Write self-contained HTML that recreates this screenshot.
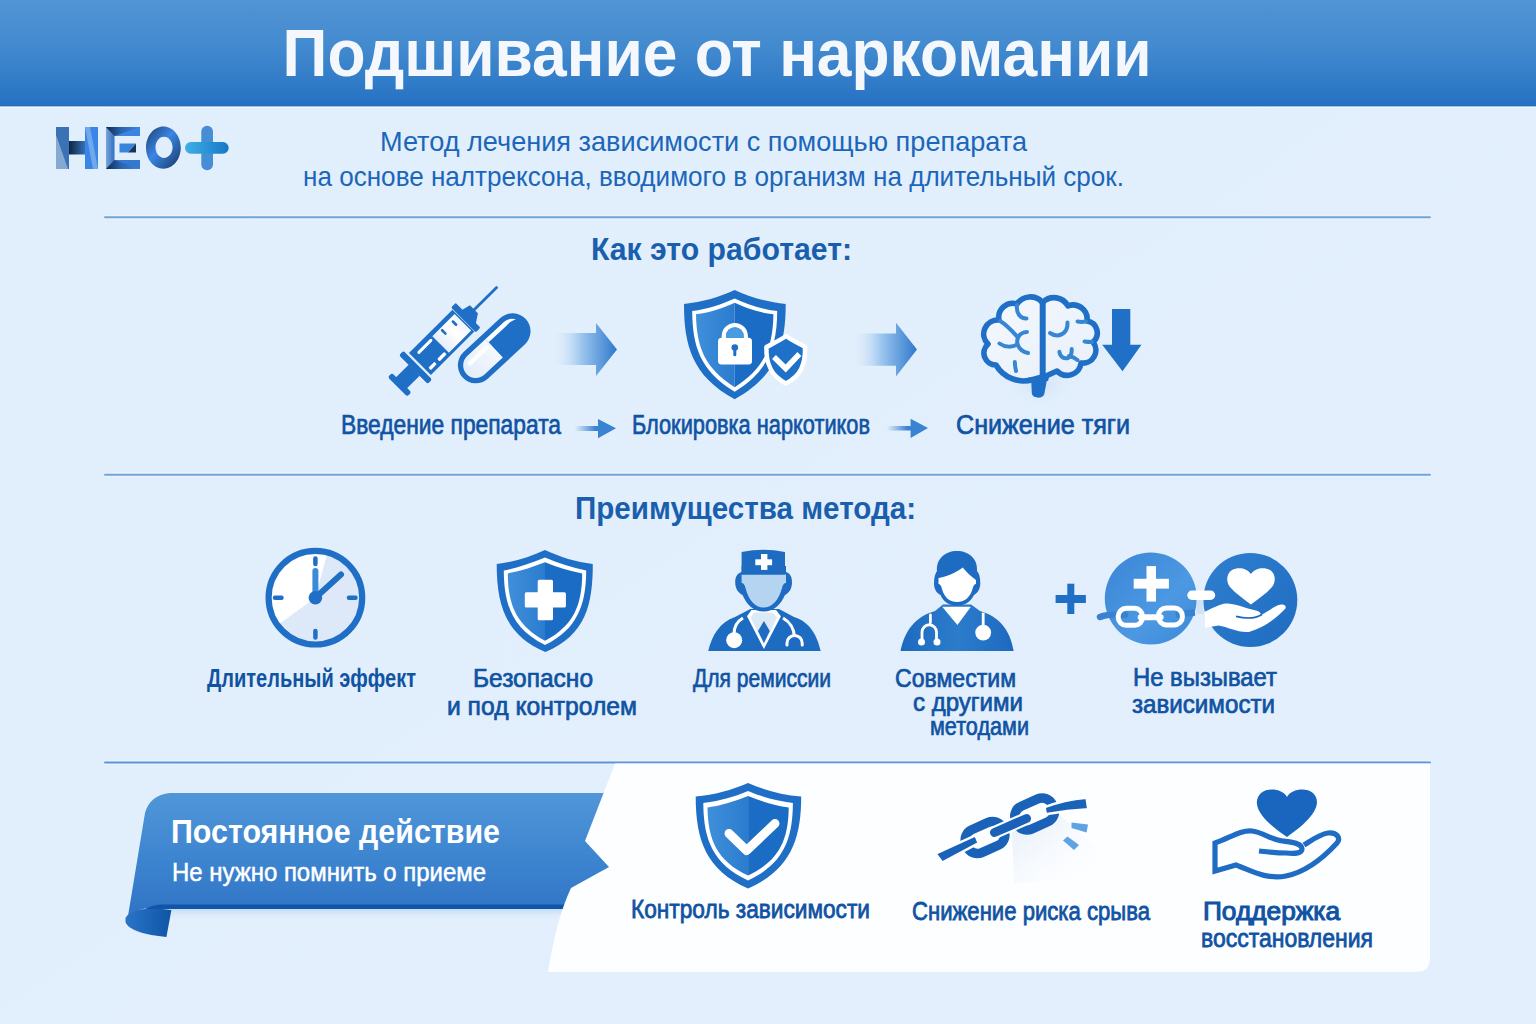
<!DOCTYPE html>
<html><head><meta charset="utf-8">
<style>
html,body{margin:0;padding:0;width:1536px;height:1024px;overflow:hidden;background:#e1eefb;}
svg{position:absolute;left:0;top:0;display:block}
text{font-family:"Liberation Sans",sans-serif;}
</style></head><body>
<svg width="1536" height="1024" viewBox="0 0 1536 1024">
<defs>
<linearGradient id="hdr" x1="0" y1="0" x2="0" y2="1">
<stop offset="0" stop-color="#5294d4"/><stop offset="0.45" stop-color="#428acf"/><stop offset="0.85" stop-color="#2d78c6"/><stop offset="1" stop-color="#2470c0"/>
</linearGradient>
<linearGradient id="bg" x1="0" y1="0" x2="1" y2="1">
<stop offset="0" stop-color="#e1eefb"/><stop offset="1" stop-color="#e3effc"/>
</linearGradient>
</defs>
<rect x="0" y="0" width="1536" height="1024" fill="url(#bg)"/>
<rect x="0" y="106" width="1536" height="2" fill="#f2f8fe" opacity="0.8"/>
<rect x="0" y="0" width="1536" height="106.4" fill="url(#hdr)"/>
<!-- title -->
<text id="t_title" x="282.6" y="76" font-size="67" font-weight="bold" fill="#f4f8fd" textLength="869" lengthAdjust="spacingAndGlyphs">Подшивание от наркомании</text>
<!-- subtitle -->
<text id="t_sub1" x="380" y="151" font-size="28.5" fill="#1b66ba" textLength="647" lengthAdjust="spacingAndGlyphs">Метод лечения зависимости с помощью препарата</text>
<text id="t_sub2" x="303" y="185.5" font-size="28.5" fill="#1b66ba" textLength="821" lengthAdjust="spacingAndGlyphs">на основе налтрексона, вводимого в организм на длительный срок.</text>

<!-- ===== LOGO ===== -->
<g id="logo">
<linearGradient id="lgH1" x1="0" y1="0" x2="1" y2="0"><stop offset="0" stop-color="#7fa8d6"/><stop offset="0.5" stop-color="#3f79bb"/><stop offset="1" stop-color="#2e6db5"/></linearGradient>
<linearGradient id="lgH2" x1="0" y1="0" x2="1" y2="0"><stop offset="0" stop-color="#2f75c8"/><stop offset="0.4" stop-color="#7aa9e6"/><stop offset="1" stop-color="#3a86e8"/></linearGradient>
<linearGradient id="lgHc" x1="0" y1="0" x2="1" y2="0"><stop offset="0" stop-color="#0e2440"/><stop offset="1" stop-color="#3470b8"/></linearGradient>
<linearGradient id="lgE" x1="0" y1="0" x2="1" y2="1"><stop offset="0" stop-color="#132d50"/><stop offset="0.5" stop-color="#2f6fc0"/><stop offset="1" stop-color="#3a80d8"/></linearGradient>
<linearGradient id="lgO" x1="0" y1="0" x2="1" y2="1"><stop offset="0" stop-color="#1c3e6a"/><stop offset="0.45" stop-color="#3b86e6"/><stop offset="1" stop-color="#17355e"/></linearGradient>
<linearGradient id="lgP" x1="0" y1="0" x2="1" y2="0"><stop offset="0" stop-color="#3fb0e6"/><stop offset="1" stop-color="#1677c6"/></linearGradient>
<linearGradient id="lgPv" x1="0" y1="0" x2="0" y2="1"><stop offset="0" stop-color="#3b7fd0"/><stop offset="0.5" stop-color="#2a8bd0"/><stop offset="1" stop-color="#3a7ed6"/></linearGradient>
<rect x="56" y="127" width="13" height="42" fill="#3b72b6"/>
<path d="M56,135 L68,169 L56,169 Z" fill="#86a9d2"/>
<rect x="85" y="127" width="13" height="42" fill="#3a86e6"/>
<path d="M85,127 L90,127 L98,169 L93,169 Z" fill="#7fb0ee" opacity="0.8"/>
<rect x="69" y="141" width="16" height="13.5" fill="url(#lgHc)"/>
<linearGradient id="lgEt" x1="0" y1="0" x2="1" y2="0"><stop offset="0" stop-color="#10284a"/><stop offset="0.45" stop-color="#2a64b0"/><stop offset="1" stop-color="#3a86e6"/></linearGradient>
<linearGradient id="lgEv" x1="0" y1="0" x2="1" y2="0"><stop offset="0" stop-color="#7aa4d8"/><stop offset="1" stop-color="#2f70c4"/></linearGradient>
<rect x="106" y="127" width="8.5" height="42" fill="url(#lgEv)"/>
<path d="M106,127 H140 V136 H114.5 Z" fill="url(#lgEt)"/>
<path d="M114.5,136 L140,127 V136 Z" fill="#3a84e2"/>
<path d="M106,169 H140 V160 H114.5 Z" fill="url(#lgEt)"/>
<path d="M114.5,160 L140,169 V160 Z" fill="#3578d0"/>
<path d="M119.5,143.5 H136 L128,152.5 H119.5 Z" fill="#3a84dc"/>
<path d="M128,152.5 L136,143.5 V152.5 Z" fill="#17345c"/>
<path fill-rule="evenodd" d="M163.4,126.4 C173,126.4 180.8,135.8 180.8,147.6 C180.8,159.4 173,168.8 163.4,168.8 C153.8,168.8 146,159.4 146,147.6 C146,135.8 153.8,126.4 163.4,126.4 Z M164,136.7 C159.3,136.7 155.5,141.5 155.5,147.3 C155.5,153.1 159.3,157.9 164,157.9 C168.7,157.9 172.6,153.1 172.6,147.3 C172.6,141.5 168.7,136.7 164,136.7 Z" fill="url(#lgO)"/>
<rect x="201.3" y="125.7" width="11.7" height="44.5" rx="5.8" fill="url(#lgPv)" opacity="0.9"/>
<rect x="185" y="142.1" width="43.7" height="11.7" rx="5.8" fill="url(#lgP)"/>
</g>

<!-- ===== HOW IT WORKS ICONS ===== -->
<linearGradient id="arrG" x1="0" y1="0" x2="1" y2="0"><stop offset="0" stop-color="#e2edf9" stop-opacity="0"/><stop offset="0.45" stop-color="#9cc6ef"/><stop offset="1" stop-color="#2f78cc"/></linearGradient>
<linearGradient id="arrS" x1="0" y1="0" x2="1" y2="0"><stop offset="0" stop-color="#3a83d2" stop-opacity="0"/><stop offset="0.5" stop-color="#3a83d2"/><stop offset="1" stop-color="#3a83d2"/></linearGradient>
<path d="M552,333 H596 V323 L617,349.5 L596,376 V365 H552 Z" fill="url(#arrG)"/>
<path d="M852,333.5 H896 V322.7 L917,349.5 L896,376.4 V365.7 H852 Z" fill="url(#arrG)"/>
<path d="M575,426 H598 V419 L616,428.3 L598,438.3 V431 H575 Z" fill="url(#arrS)"/>
<path d="M887,426 H910.6 V418.8 L928,428 L910.6,437.9 V430.5 H887 Z" fill="url(#arrS)"/>

<!-- syringe -->
<g transform="translate(398,386) rotate(-45)" fill="#1f6fc6">
<rect x="-1" y="-13.5" width="6" height="27.5" rx="2.2"/>
<rect x="4" y="-7.5" width="19" height="15.5"/>
<rect x="22.5" y="-21" width="6.2" height="40.5" rx="2"/>
<rect x="31" y="-15.5" width="61.5" height="31"/>
<linearGradient id="glass" x1="0" y1="0" x2="1" y2="0"><stop offset="0" stop-color="#e4eefa"/><stop offset="0.6" stop-color="#ffffff"/><stop offset="1" stop-color="#f0f6fd"/></linearGradient>
<rect x="59.5" y="-11" width="31.5" height="23.5" fill="url(#glass)"/>
<rect x="37" y="-10.5" width="20" height="3" rx="1.5" fill="#fff"/>
<rect x="34.4" y="8.6" width="8.5" height="3.4" rx="1" fill="#fff"/>
<rect x="46.8" y="8.6" width="10" height="3.4" rx="1" fill="#fff"/>
<rect x="69.3" y="-9.5" width="2.6" height="7.2" rx="1.2"/>
<rect x="83.1" y="-8" width="2.6" height="7" rx="1.2"/>
<rect x="93" y="-18" width="6.6" height="35" rx="1.5"/>
<path d="M99,-8.5 L108,-6.3 V5 L99,11 Z"/>
<rect x="107" y="-1.4" width="33.5" height="2.8"/>
</g>
<!-- pill -->
<g transform="translate(494.2,348.3) rotate(-42.8)">
<linearGradient id="pillL" x1="0" y1="0" x2="1" y2="0"><stop offset="0" stop-color="#e2edfa"/><stop offset="1" stop-color="#f4f8fe"/></linearGradient>
<rect x="-43" y="-18" width="86" height="36" rx="18" fill="#1f6fc6"/>
<path d="M0,-12.7 H-25 A12.7,12.7 0 0 0 -25,12.7 H0 Z" fill="url(#pillL)"/>
<path d="M-28,-5.5 L-5,-5.8" stroke="#ffffff" stroke-width="4.5" stroke-linecap="round" opacity="0.9"/>
<path d="M0,-12.7 H25 A12.7,12.7 0 0 1 35.6,-6.4 C32,-8.8 28,-8.5 24,-8.2 H0 Z" fill="#ffffff"/>
</g>
<!-- shield lock -->
<linearGradient id="shL" x1="0" y1="0" x2="1" y2="0"><stop offset="0" stop-color="#3f8fdb"/><stop offset="1" stop-color="#2b7cce"/></linearGradient>
<g id="shieldlock">
<path d="M734.7,290 C720,297 702,302 684,304 C684,345 692,376 734.7,399.3 C777,376 785.7,345 785.7,304 C767,302 749,297 734.7,290 Z" fill="#1f6fc6"/>
<path d="M734.7,298.4 C722,304 708,309 692.2,311.1 C692.5,346 700,371 734.7,391.7 C769,371 777,346 777.2,311.1 C761,309 747,304 734.7,298.4 Z" fill="#ffffff"/>
<path d="M734.7,302.8 C723,308 711,312.5 696,314.3 C696.5,346 704,368 734.7,387.2 Z" fill="url(#shL)"/>
<path d="M734.7,302.8 C746,308 758,312.5 773.4,314.3 C773,346 765,368 734.7,387.2 Z" fill="#1a6cc4"/>
<rect x="718" y="337.7" width="34" height="26.7" rx="3.5" fill="#ffffff"/>
<path d="M721.7,339 V336 A13.1,13.1 0 0 1 747.9,336 V339 H743.6 V336 A8.8,8.8 0 0 0 726,336 V339 Z" fill="#ffffff"/>
<path d="M726,338 V336 A8.8,8.8 0 0 1 743.6,336 V338 Z" fill="#4a9ae0"/>
<circle cx="734.8" cy="347.5" r="3.3" fill="#1f6fc6"/>
<rect x="733.3" y="348" width="3" height="8.2" rx="1.5" fill="#1f6fc6"/>
<!-- small shield -->
<path d="M786,336 C779,341 772,344 766.4,347 C766,364 771,376 786,383.4 C801,376 805.5,364 805,347 C800,344 793,341 786,336 Z" fill="#1f70c8" stroke="#ffffff" stroke-width="4.5" stroke-linejoin="round"/>
<path d="M774,357 L785.7,368.5 L799.4,354" stroke="#ffffff" stroke-width="5.5" fill="none" stroke-linejoin="miter"/>
</g>
<!-- brain -->
<g id="brain">
<linearGradient id="brF" x1="0" y1="0" x2="1" y2="1"><stop offset="0" stop-color="#f4f8fe"/><stop offset="1" stop-color="#e8f0fa"/></linearGradient>
<radialGradient id="brGlow" cx="0.5" cy="0.5" r="0.5"><stop offset="0" stop-color="#cfe3f8" stop-opacity="0.9"/><stop offset="1" stop-color="#e1eefb" stop-opacity="0"/></radialGradient>
<ellipse cx="1040" cy="385" rx="36" ry="22" fill="url(#brGlow)"/>
<path d="M1031,376 L1031.8,393 C1032,399 1044,399.5 1044.5,393 L1048,374 Z" fill="#1f6fc6"/>
<path d="M1042,302 A16,16 0 0 0 1017,304 A14,14 0 0 0 999,320 A14,14 0 0 0 988,344 A12,12 0 0 0 996,365 A32,32 0 0 0 1033,379.5 L1046,376 L1057,371 A14,14 0 0 0 1081,363 A13,13 0 0 0 1093,342 A12,12 0 0 0 1087,321 A14,14 0 0 0 1068,306 A16,16 0 0 0 1043,302 Z" fill="url(#brF)" stroke="#1f6fc6" stroke-width="5.6" stroke-linejoin="round"/>
<path d="M1042.7,301 V377" stroke="#1f6fc6" stroke-width="6" fill="none"/>
<path d="M1028,377.5 C1034,378 1042,377 1050,374 L1048,381 H1030 Z" fill="#1f6fc6"/>
<g stroke="#3686d4" stroke-width="4" stroke-linecap="round" fill="none">
<path d="M1017,305 C1016,313 1020,318.5 1026.5,318.5"/>
<path d="M1027,332 C1018,332.5 1016.5,340 1017.5,344 C1019,349 1023,352 1028,353"/>
<path d="M1000,321 C1007,325 1012,331 1017.5,337"/>
<path d="M999.5,343.5 C1005,347.5 1012,347.5 1017.5,344.5"/>
<path d="M1014.8,362 C1014.8,365 1015.3,368 1016,371"/>
<path d="M1050,333 C1058,338.5 1068,334 1067.5,322.5"/>
<path d="M1059.4,351.8 C1060,357 1064,359 1068,358 C1071,357 1072,352 1071.7,348.9"/>
<path d="M1069,356 C1072,356.5 1075,358 1077.5,360"/>
<path d="M1086,321.5 C1083,322 1080,322 1077.5,321.5"/>
<path d="M1092,342 C1090,342 1087,342 1084.5,341.5"/>
</g>
</g>
<path d="M1112,309 H1130.3 V344.8 H1141.5 L1122.5,371.2 L1102.2,344.8 H1112 Z" fill="#1f70c6"/>


<!-- ===== ADVANTAGES ICONS ===== -->
<!-- clock -->
<g id="clock">
<circle cx="315.4" cy="597.7" r="47" fill="#dde9f8"/>
<path d="M315.4,597.7 L327.5,552.2 A47,47 0 0 0 277.5,625.3 Z" fill="#ffffff"/>
<circle cx="315.4" cy="597.7" r="46.8" fill="none" stroke="#1f6fc6" stroke-width="6.2"/>
<g stroke="#1f6fc6" stroke-width="4.5" stroke-linecap="round">
<line x1="315.4" y1="558.5" x2="315.4" y2="564"/>
<line x1="315.4" y1="631" x2="315.4" y2="637.5"/>
<line x1="275" y1="597.7" x2="281.5" y2="597.7"/>
<line x1="349" y1="597.7" x2="355.5" y2="597.7"/>
</g>
<line x1="315.4" y1="597" x2="315.4" y2="571" stroke="#3a8bd8" stroke-width="6" stroke-linecap="round"/>
<line x1="315.4" y1="597.7" x2="341" y2="574.5" stroke="#1f6fc6" stroke-width="6" stroke-linecap="round"/>
<circle cx="315.4" cy="597.7" r="6.8" fill="#1f6fc6"/>
</g>
<!-- shield plus -->
<g id="shieldplus">
<path d="M545,550 C530,557 514,562 496.7,564 C496.7,604 505,635 545.4,652 C586,635 592.8,604 592.8,564 C576,562 560,557 545,550 Z" fill="#1f6fc6"/>
<path d="M545,557.6 C532,563 518,568 503.8,570.5 C504,604 512,629 545,645 C578,629 586,604 586.2,570.5 C572,568 558,563 545,557.6 Z" fill="#ffffff"/>
<path d="M545,562.3 C533,567 521,571 507.8,573.4 C508,603 515,625 545,640.8 Z" fill="url(#shL)"/>
<path d="M545,562.3 C557,567 569,571 582.2,573.4 C582,603 575,625 545,640.8 Z" fill="#1a6cc4"/>
<path d="M539.5,579.8 H551.5 Q553,579.8 553,581.3 V592.2 H564.4 Q565.9,592.2 565.9,593.7 V605.9 Q565.9,607.4 564.4,607.4 H553 V618.8 Q553,620.3 551.5,620.3 H539.2 Q537.7,620.3 537.7,618.8 V607.4 H526.3 Q524.8,607.4 524.8,605.9 V593.7 Q524.8,592.2 526.3,592.2 H537.7 V581.3 Q537.7,579.8 539.5,579.8 Z" fill="#ffffff"/>
</g>
<!-- doctor 1 -->
<g id="doc1">
<path d="M708.2,651 C712,635 720,622 735,617 L750.4,609 H779 L794,617 C810,622 817,635 820.7,651 Z" fill="#1d6cc2"/>
<path d="M747,616.2 L763.9,649 L780.9,616.2 L776,610 H751.5 Z" fill="#ffffff"/>
<path d="M750.5,617.5 L763.9,644.5 L777,617.5 L773,612.5 H754 Z" fill="#dce9f7"/>
<path d="M763.9,621 L758,631 L763.9,643 L769.8,631 Z" fill="#1d6cc2"/>
<path d="M735.2,582 C735.2,576 738,573 741.6,572 V566 H786 V572 C789.5,573 792,576 792,582 C792,589 789,593 785,595 C781,604 774,611.5 763.7,611.5 C753,611.5 746.5,604 742.5,595 C738.5,593 735.2,589 735.2,582 Z" fill="#1d6cc2"/>
<path d="M741.6,574.5 H786 V583 C784,583 782.5,585 782,588 C779,600 772,607.5 763.7,607.5 C755,607.5 748.5,600 745.5,588 C745,585 743.5,583 741.6,583 Z" fill="#b5d4f1"/>
<path d="M741.6,552 Q763.5,547.5 785,552 V574.5 H741.6 Z" fill="#1d6cc2"/>
<rect x="761" y="554" width="6.4" height="15.9" fill="#ffffff"/>
<rect x="755.3" y="559.3" width="16.8" height="5.9" fill="#ffffff"/>
<path d="M743,618 C736,622 734,628 734,634" stroke="#ffffff" stroke-width="3" fill="none"/>
<circle cx="734.2" cy="640.2" r="8" fill="#ffffff"/>
<path d="M783,618 C790,622 794,628 794.5,637" stroke="#ffffff" stroke-width="3" fill="none"/>
<path d="M787,645 V643 A7.6,7.6 0 0 1 802.2,643 V645" stroke="#ffffff" stroke-width="3" fill="none" stroke-linecap="round"/>
</g>
<!-- doctor 2 -->
<g id="doc2">
<linearGradient id="bodyG" x1="0" y1="0" x2="1" y2="0"><stop offset="0" stop-color="#1d69bf"/><stop offset="0.5" stop-color="#2c7ccb"/><stop offset="1" stop-color="#1d69bf"/></linearGradient>
<path d="M900.5,651 C905,630 915,617 935,611 L943,604.5 H971 L980,611 C1000,617 1010,630 1013.7,651 Z" fill="url(#bodyG)"/>
<path d="M942.2,606.8 L957.4,625 L970.9,606.8 Z" fill="#ffffff"/>
<path d="M934,583 C934,577 935.5,573 937,571 C936,559 945,551 957,551 C969,551 978,559 977,571 C979,573 980.3,577 980.3,583 C980.3,590 977,593 974,595 C970,603 964,605.6 957.2,605.6 C950,605.6 944,603 940.5,595 C937,593 934,590 934,583 Z" fill="#1d6cc2"/>
<path d="M938.5,578 C945,577 956,573 962.7,567.5 C967,573 972,577 976,580 V584 C974.5,584 973,586 972.5,589 C970,598 964,602 957.2,602 C950,602 944.5,598 942,589 C941.5,586 940,584 938.5,584 Z" fill="#ffffff"/>
<path d="M930.4,615 V622.6 M922,642 V632 A7.2,7.2 0 0 1 936.5,632 V642" stroke="#ffffff" stroke-width="2.8" fill="none" stroke-linecap="round"/>
<circle cx="921.5" cy="642" r="3.5" fill="#ffffff"/>
<circle cx="937" cy="642" r="3.5" fill="#ffffff"/>
<path d="M983.2,612.7 V627" stroke="#ffffff" stroke-width="2.8"/>
<circle cx="983.2" cy="632.6" r="7.9" fill="#ffffff"/>
</g>
<!-- plus + circles -->
<rect x="1055.6" y="595" width="30.3" height="8" fill="#1f6fc6"/>
<rect x="1067.3" y="583.7" width="7" height="30.3" fill="#1f6fc6"/>
<linearGradient id="circL" x1="0" y1="0" x2="1" y2="1"><stop offset="0" stop-color="#3b86d6"/><stop offset="0.6" stop-color="#4c98e2"/><stop offset="1" stop-color="#3a88d8"/></linearGradient>
<linearGradient id="circR" x1="0" y1="0" x2="1" y2="1"><stop offset="0" stop-color="#2f7fd0"/><stop offset="1" stop-color="#1e6cc0"/></linearGradient>
<circle cx="1150.8" cy="598.4" r="46" fill="url(#circL)"/>
<circle cx="1250.3" cy="600" r="47" fill="url(#circR)"/>
<rect x="1146.5" y="566.1" width="9.5" height="35.5" fill="#ffffff"/>
<rect x="1133.7" y="578.8" width="35.2" height="9.8" fill="#ffffff"/>
<path d="M1100,617 C1106,614.5 1114,614 1125,614.7" stroke="#3a82d0" stroke-width="6.5" fill="none" stroke-linecap="round"/>
<path d="M1176,615 C1182,613.5 1188,613 1195,612.6" stroke="#3a82d0" stroke-width="6.5" fill="none"/>
<g fill="none" stroke="#ffffff" stroke-width="5">
<rect x="1118.2" y="608.3" width="24.4" height="17" rx="8"/>
<rect x="1158.4" y="607.9" width="24" height="17" rx="8"/>
</g>
<rect x="1137.7" y="614.3" width="25.9" height="6" rx="3" fill="#ffffff"/>
<rect x="1196.6" y="599" width="6.7" height="15" fill="#cfe2f6"/>
<rect x="1187.3" y="590.6" width="27.9" height="9.3" rx="4.6" fill="#ffffff"/>
<path d="M1250.9,574 C1247,568 1238,566.5 1232,570 C1226,574 1226,582 1230,587 C1236,594 1244,599 1250.9,604.6 C1258,599 1266,594 1272,587 C1276,582 1276,574 1270,570 C1264,566.5 1255,568 1250.9,574 Z" fill="#ffffff"/>
<path d="M1205,611.5 C1213,608 1220,604 1226,603.5 C1233,603 1245,608 1256,610.5 C1262,612 1262,616 1258,617 C1250,618 1242,617 1236,616.4 C1245,618.5 1255,619 1263,614 C1270,610 1276,605 1281,604.6 C1285,604 1287,607 1285,609 C1278,616 1268,626 1249,632 C1238,633 1228,627 1218.6,625.6 L1205,627.7 Z" fill="#ffffff"/>
<path d="M1236,616.4 C1245,618.5 1255,619 1262,614.5" stroke="#1a66c0" stroke-width="1.6" fill="none"/>
<!-- lines -->
<rect x="104" y="214.8" width="1327" height="4.8" fill="#f0f7fe" opacity="0.6"/>
<rect x="104" y="216.2" width="1327" height="2" rx="1" fill="#72a4da"/>
<rect x="104" y="472.4" width="1327" height="4.8" fill="#f0f7fe" opacity="0.6"/>
<rect x="104" y="473.8" width="1327" height="2" rx="1" fill="#72a4da"/>
<rect x="104" y="760.2" width="1327" height="4.6" fill="#f0f7fe" opacity="0.6"/>
<rect x="104" y="761.5" width="1327" height="2" rx="1" fill="#5b95d8"/>
<text id="t_how" x="591" y="259.5" font-size="32" font-weight="bold" fill="#1a5eae" textLength="261" lengthAdjust="spacingAndGlyphs">Как это работает:</text>
<text id="t_adv" x="575" y="519" font-size="32" font-weight="bold" fill="#1a5eae" textLength="341" lengthAdjust="spacingAndGlyphs">Преимущества метода:</text>
<!-- row1 labels -->
<g fill="#1053a3" font-size="27" stroke="#1053a3" stroke-width="0.7">
<text x="341" y="434.3" textLength="220" lengthAdjust="spacingAndGlyphs">Введение препарата</text>
<text x="632" y="434" textLength="238" lengthAdjust="spacingAndGlyphs">Блокировка наркотиков</text>
<text x="956" y="434" textLength="174" lengthAdjust="spacingAndGlyphs">Снижение тяги</text>
</g>
<!-- row2 labels -->
<g fill="#1053a3" font-size="25" stroke="#1053a3" stroke-width="0.7">
<text x="207" y="686.6" font-weight="bold" stroke-width="0" textLength="209" lengthAdjust="spacingAndGlyphs">Длительный эффект</text>
<text x="473" y="686.6" textLength="120" lengthAdjust="spacingAndGlyphs">Безопасно</text>
<text x="447" y="715" textLength="190" lengthAdjust="spacingAndGlyphs">и под контролем</text>
<text x="693" y="686.6" textLength="138" lengthAdjust="spacingAndGlyphs">Для ремиссии</text>
<text x="895" y="686.6" textLength="121" lengthAdjust="spacingAndGlyphs">Совместим</text>
<text x="913" y="710.5" textLength="110" lengthAdjust="spacingAndGlyphs">с другими</text>
<text x="930" y="734.7" textLength="99" lengthAdjust="spacingAndGlyphs">методами</text>
<text x="1133" y="685.8" textLength="144" lengthAdjust="spacingAndGlyphs">Не вызывает</text>
<text x="1132" y="712.6" textLength="143" lengthAdjust="spacingAndGlyphs">зависимости</text>
</g>
<!-- ribbon -->
<linearGradient id="ribG" x1="0" y1="0" x2="0" y2="1"><stop offset="0" stop-color="#5096d8"/><stop offset="0.55" stop-color="#3d84d0"/><stop offset="1" stop-color="#2f74c4"/></linearGradient>
<linearGradient id="foldG" x1="0" y1="0" x2="1" y2="0"><stop offset="0" stop-color="#2a74c8"/><stop offset="1" stop-color="#0f55a6"/></linearGradient>
<linearGradient id="shdG" x1="0" y1="0" x2="0" y2="1"><stop offset="0" stop-color="#bcd6f2"/><stop offset="1" stop-color="#e2edf9" stop-opacity="0"/></linearGradient><path d="M171,908 L600,908 L600,920 L171,920 Z" fill="url(#shdG)"/>
<path id="ribbon" d="M170,793 L625,793 L625,906 L171,906 Q140,906 128,916 L145,813 Q150,795 170,793 Z" fill="url(#ribG)"/>
<path d="M160,904.5 L600,904.5 L600,909 L171,909 Q150,909 140,912 Q150,905 160,904.5 Z" fill="#0f56a8"/>
<path d="M125.5,918 C130,910 145,907 171.4,910 L166.4,937 C145,935 128,930 125.5,922 Z" fill="url(#foldG)"/>

<!-- bottom panel -->
<path d="M615,763.5 L1430,763.5 L1430,958 Q1430,972 1416,972 L548,972 Q556,920 571,888 L609,867 L585,841 Z" fill="#fdfeff"/>
<!-- ===== BOTTOM ICONS ===== -->
<g id="shieldcheck">
<path d="M748.1,783 C732,790 714,795 695.7,796.4 C695.7,840 706,870 748.1,888.4 C790,870 801.2,840 801.2,796.4 C782,795 764,790 748.1,783 Z" fill="#1f6fc6"/>
<path d="M748.1,791 C734,797 719,801 703.3,803 C703.5,840 713,864 748.1,880.5 C783,864 792.7,840 792.9,803 C777,801 762,797 748.1,791 Z" fill="#ffffff"/>
<path d="M748.1,796 C735,801.5 721,805.5 707.5,807.5 C708,840 717,861 748.1,875.5 Z" fill="url(#shL)"/>
<path d="M748.1,796 C761,801.5 775,805.5 788.7,807.5 C788.5,840 779,861 748.1,875.5 Z" fill="#1a6cc4"/>
<path d="M729,833.5 L746.6,850.5 L775,823.5" stroke="#ffffff" stroke-width="9" fill="none" stroke-linecap="round" stroke-linejoin="round"/>
</g>
<g id="chain">
<linearGradient id="quadG" x1="0" y1="0" x2="1" y2="1"><stop offset="0" stop-color="#dde9f8"/><stop offset="1" stop-color="#ffffff" stop-opacity="0"/></linearGradient>
<path d="M1012,832 L1060,815 L1098,850 L1100,875 L1014,884 Z" fill="url(#quadG)" opacity="0.8"/>
<g stroke="#1a62b8" fill="none" stroke-linecap="butt">
<rect x="965" y="825" width="40" height="25" rx="11" transform="rotate(-24 985 837.5)" stroke-width="9.5"/>
<rect x="1014.6" y="801.5" width="40" height="25" rx="11" transform="rotate(-24 1034.6 814)" stroke-width="9.5"/>
<path d="M935.5,853.6 L975.4,835.3 L978.7,843.1 L942.2,862.5 Z" fill="#1a62b8" stroke="#fdfeff" stroke-width="2.5"/>
<path d="M994.5,832.5 L1026.5,818.5" stroke="#fdfeff" stroke-width="13" stroke-linecap="round"/>
<path d="M994.5,832.5 L1026.5,818.5" stroke-width="9" stroke-linecap="round"/>
<path d="M1044.6,807.1 C1058,802 1072,799 1086.6,797.7 L1088.3,809.3 C1073,810 1058,812 1045.7,814.3 Z" fill="#1a62b8" stroke="#fdfeff" stroke-width="2.5"/>
</g>
<path d="M939,852 L942,864" stroke="#fdfeff" stroke-width="0"/>
<path d="M1071.5,822.5 L1088,824.5 L1086.5,832.5 L1071.5,828 Z" fill="#5fa3e4"/>
<path d="M1063,840.5 L1067.5,836.5 L1079,845 L1074,850 Z" fill="#5fa3e4"/>
</g>
<g id="handheart">
<path d="M1287,797 C1283,789 1268,787 1261,793 C1253,801 1254,815 1287,837 C1319,815 1321,801 1313,793 C1306,787 1291,789 1287,797 Z" fill="#1a66bf"/>
<path d="M1304,845 C1312,840 1320,834 1328,833 C1337,832 1341,838 1337,843 C1325,856 1306,872 1286,876 C1266,880 1250,870 1236,865 L1215,871 V843 C1230,838 1240,830 1252,831 C1262,832 1272,840 1283,841 C1292,842 1302,843 1302,849 C1302,853 1296,854 1286,853 C1276,853 1268,852 1259,851" stroke="#1f6cc4" stroke-width="5.2" fill="none" stroke-linejoin="miter"/>
</g>
<!-- ribbon fold -->

<text x="171" y="843" font-size="33.5" font-weight="bold" fill="#ffffff" textLength="329" lengthAdjust="spacingAndGlyphs">Постоянное действие</text>
<text x="172" y="881" font-size="26" fill="#ffffff" stroke="#ffffff" stroke-width="0.5" textLength="314" lengthAdjust="spacingAndGlyphs">Не нужно помнить о приеме</text>
<g fill="#1053a3" font-size="26.5" stroke="#1053a3" stroke-width="0.8">
<text x="631" y="918.4" textLength="239" lengthAdjust="spacingAndGlyphs">Контроль зависимости</text>
<text x="912" y="920" textLength="238" lengthAdjust="spacingAndGlyphs">Снижение риска срыва</text>
<text x="1203" y="920.2" stroke-width="1.1" textLength="137" lengthAdjust="spacingAndGlyphs">Поддержка</text>
<text x="1201" y="946.6" textLength="172" lengthAdjust="spacingAndGlyphs">восстановления</text>
</g>
</svg>
</body></html>
